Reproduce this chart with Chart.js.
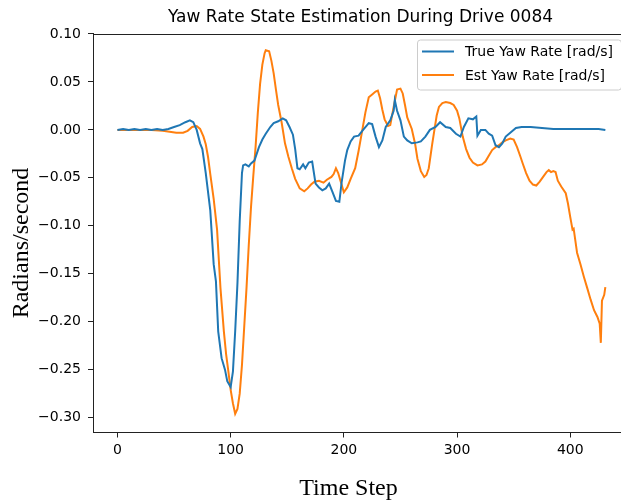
<!DOCTYPE html>
<html>
<head>
<meta charset="utf-8">
<script src="https://cdn.jsdelivr.net/npm/chart.js@4.4.1/dist/chart.umd.min.js"></script>
<style>
  html, body { margin: 0; padding: 0; background: #fff; overflow: hidden; }
  canvas { display: block; }
</style>
</head>
<body>
<canvas id="chart" width="640" height="500"></canvas>
<script>
// Measured yaw rate (rad/s) by time step
const trueSteps = [0,5,10,15,20,25,30,35,40,45,50,55,60,64,67,70,73,75,78,82,
  85,87,89,92,95,97,100,102,104,106,108,110,111,113,116,118,121,125,128,131,
  135,138,142,146,149,152,155,157,159,161,164,166,169,172,175,178,181,184,187,190,
  193,196,198,201,203,206,209,213,217,222,225,228,231,234,237,241,244,245,247,250,
  253,256,260,265,268,272,276,281,285,290,294,299,303,306,310,314,317,318,321,325,
  328,331,334,337,340,343,347,352,357,365,375,385,395,405,415,425,431];
const trueYaw = [0.000,0.001,0.000,0.001,0.000,0.001,0.000,0.001,0.000,0.001,0.003,0.005,0.008,0.010,0.008,0.000,-0.014,-0.020,-0.045,-0.084,
  -0.140,-0.158,-0.210,-0.238,-0.250,-0.262,-0.268,-0.252,-0.210,-0.160,-0.095,-0.045,-0.037,-0.036,-0.038,-0.035,-0.032,-0.018,-0.010,-0.004,
  0.003,0.007,0.009,0.012,0.010,0.003,-0.005,-0.020,-0.040,-0.041,-0.036,-0.040,-0.034,-0.033,-0.056,-0.060,-0.063,-0.061,-0.056,-0.065,
  -0.074,-0.075,-0.055,-0.032,-0.021,-0.012,-0.007,-0.006,0.000,0.007,0.006,-0.007,-0.018,-0.011,0.003,0.010,0.020,0.031,0.020,0.010,
  -0.007,-0.011,-0.014,-0.013,-0.012,-0.007,0.000,0.003,0.008,0.003,0.002,-0.004,-0.007,0.003,0.012,0.011,0.014,-0.006,0.000,0.000,
  -0.004,-0.006,-0.016,-0.018,-0.014,-0.007,-0.003,0.002,0.003,0.003,0.002,0.001,0.001,0.001,0.001,0.001,0.000];

// Filter estimate of the yaw rate (rad/s) by time step
const estSteps = [0,10,20,30,40,46,52,58,62,66,70,73,76,78,80,82,85,88,91,94,
  96,98,100,102,104,106,108,110,112,114,116,118,120,122,124,126,128,130,131,134,
  136,138,140,142,145,148,151,154,157,161,165,168,171,174,178,182,185,189,191,193,
  195,197,200,203,206,210,213,216,219,222,225,228,230,232,234,236,239,241,244,247,
  250,252,254,256,260,263,265,268,271,273,275,278,280,282,284,287,290,294,297,300,
  302,305,308,311,314,318,322,325,328,331,334,337,340,343,347,350,353,356,358,361,
  364,367,370,373,376,379,381,383,385,387,389,392,396,398,400,402,403,406,409,412,
  415,418,421,424,426,427,428,430,431];
const estYaw = [0.000,0.000,0.000,0.000,-0.001,-0.002,-0.003,-0.003,-0.001,0.003,0.004,0.001,-0.007,-0.015,-0.028,-0.046,-0.072,-0.104,-0.165,-0.210,
  -0.234,-0.252,-0.271,-0.285,-0.296,-0.291,-0.275,-0.245,-0.205,-0.165,-0.120,-0.080,-0.048,-0.018,0.018,0.048,0.068,0.080,0.083,0.082,
  0.072,0.059,0.042,0.026,0.008,-0.014,-0.028,-0.040,-0.051,-0.061,-0.064,-0.061,-0.057,-0.054,-0.053,-0.055,-0.052,-0.049,-0.046,-0.040,
  -0.045,-0.053,-0.065,-0.060,-0.051,-0.040,-0.022,-0.002,0.018,0.034,0.037,0.040,0.041,0.033,0.021,0.011,0.004,0.005,0.024,0.042,
  0.043,0.038,0.026,0.013,0.001,-0.015,-0.030,-0.043,-0.049,-0.047,-0.040,-0.015,0.000,0.015,0.024,0.028,0.029,0.028,0.026,0.020,
  0.012,-0.007,-0.020,-0.029,-0.034,-0.037,-0.036,-0.033,-0.027,-0.021,-0.018,-0.016,-0.013,-0.011,-0.009,-0.010,-0.018,-0.028,-0.035,-0.045,
  -0.053,-0.057,-0.058,-0.054,-0.049,-0.044,-0.042,-0.044,-0.043,-0.044,-0.053,-0.059,-0.066,-0.077,-0.091,-0.104,-0.103,-0.128,-0.140,-0.153,
  -0.165,-0.177,-0.188,-0.195,-0.202,-0.222,-0.178,-0.172,-0.164];

const xTickValues = [0, 100, 200, 300, 400];
const yTickValues = [-0.30, -0.25, -0.20, -0.15, -0.10, -0.05, 0.00, 0.05, 0.10];
const seriesLabels = ['True Yaw Rate [rad/s]', 'Est Yaw Rate [rad/s]'];
const chartTitle = 'Yaw Rate State Estimation During Drive 0084';
const xAxisLabel = 'Time Step';
const yAxisLabel = 'Radians/second';

const toPoints = (xs, ys) => xs.map((x, i) => ({ x: x, y: ys[i] }));
const minusSign = v => (v < -1e-9 ? '\u2212' : '') + Math.abs(v).toFixed(2);

const SANS = 'DejaVu Sans';
const SERIF = 'Liberation Serif';

// Top spine, serif axis captions and an upper-right legend box
const decorations = {
  id: 'decorations',
  afterDraw(chart) {
    const { ctx, chartArea: ca } = chart;
    ctx.save();
    // top spine
    ctx.strokeStyle = '#222';
    ctx.lineWidth = 1;
    ctx.beginPath();
    ctx.moveTo(ca.left, Math.round(ca.top) + 0.5);
    ctx.lineTo(ca.right + 5, Math.round(ca.top) + 0.5);
    ctx.stroke();

    // axis captions
    ctx.fillStyle = '#000';
    ctx.font = '24px "' + SERIF + '"';
    ctx.textAlign = 'center';
    ctx.textBaseline = 'alphabetic';
    ctx.fillText(xAxisLabel, (ca.left + ca.right) / 2 - 12, 495);
    ctx.save();
    ctx.translate(28, (ca.top + ca.bottom) / 2 + 10);
    ctx.rotate(-Math.PI / 2);
    ctx.fillText(yAxisLabel, 0, 0);
    ctx.restore();

    // legend
    ctx.font = '14px "' + SANS + '"';
    const ds = chart.data.datasets;
    const textW = Math.max(...ds.map(d => ctx.measureText(d.label).width));
    const right = ca.right - 7, top = ca.top + 6;
    const padL = 5, handle = 32, gap = 11, padR = 8;
    const left = right - (padL + handle + gap + textW + padR);
    const h = 50;
    ctx.beginPath();
    ctx.roundRect(left + 0.5, top + 0.5, right - left, h, 3);
    ctx.fillStyle = 'rgba(255,255,255,0.8)';
    ctx.fill();
    ctx.strokeStyle = '#cccccc';
    ctx.lineWidth = 1;
    ctx.stroke();
    ds.forEach((d, i) => {
      const cy = top + 12 + i * 23.5;
      ctx.strokeStyle = d.borderColor;
      ctx.lineWidth = 2;
      ctx.beginPath();
      ctx.moveTo(left + padL, cy);
      ctx.lineTo(left + padL + handle, cy);
      ctx.stroke();
      ctx.fillStyle = '#000';
      ctx.textAlign = 'left';
      ctx.textBaseline = 'middle';
      ctx.fillText(d.label, left + padL + handle + gap, cy + 1);
    });
    ctx.restore();
  }
};

new Chart(document.getElementById('chart'), {
  type: 'line',
  data: {
    datasets: [
      {
        label: seriesLabels[0],
        data: toPoints(trueSteps, trueYaw),
        borderColor: '#1f77b4',
        borderWidth: 2,
        pointRadius: 0,
        tension: 0,
        fill: false
      },
      {
        label: seriesLabels[1],
        data: toPoints(estSteps, estYaw),
        borderColor: '#ff7f0e',
        borderWidth: 2,
        pointRadius: 0,
        tension: 0,
        fill: false
      }
    ]
  },
  options: {
    responsive: false,
    animation: false,
    devicePixelRatio: 1,
    layout: { padding: { left: 0, right: 12, top: 0, bottom: 0 } },
    plugins: {
      legend: { display: false },
      tooltip: { enabled: false },
      title: {
        display: true,
        text: chartTitle,
        fullSize: false,
        color: '#000',
        font: { family: SANS, size: 17, weight: 'normal' },
        padding: { top: 7, bottom: 6.1 }
      }
    },
    scales: {
      x: {
        type: 'linear',
        min: -21.6,
        max: 451,
        afterFit: s => { s.height = 67.5; },
        afterBuildTicks: s => { s.ticks = xTickValues.map(v => ({ value: v })); },
        grid: { display: true, drawOnChartArea: false, drawTicks: true, tickLength: 5, tickColor: '#222', tickWidth: 1 },
        border: { display: true, color: '#222', width: 1 },
        ticks: { color: '#000', font: { family: SANS, size: 14 }, padding: 4, maxRotation: 0,
                 callback: v => String(v) }
      },
      y: {
        type: 'linear',
        min: -0.3155,
        max: 0.1005,
        afterFit: s => { s.width = 93; },
        afterBuildTicks: s => { s.ticks = yTickValues.map(v => ({ value: v })); },
        grid: { display: true, drawOnChartArea: false, drawTicks: true, tickLength: 5, tickColor: '#222', tickWidth: 1 },
        border: { display: true, color: '#222', width: 1 },
        ticks: { color: '#000', font: { family: SANS, size: 14 }, padding: 7,
                 callback: v => minusSign(v) }
      }
    }
  },
  plugins: [decorations]
});
</script>
</body>
</html>
